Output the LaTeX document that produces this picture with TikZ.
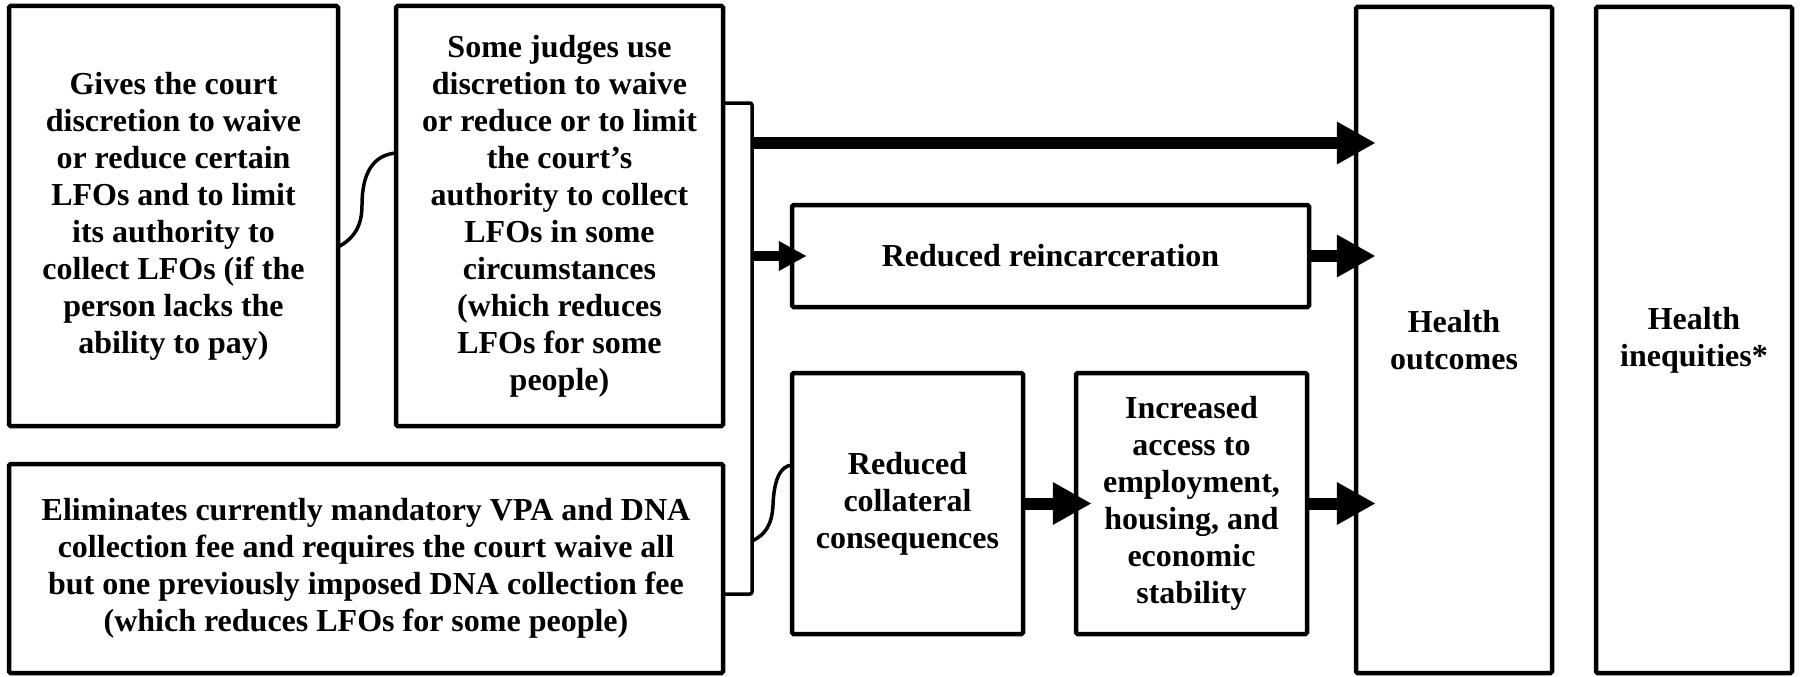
\documentclass[tikz,border=0pt]{standalone}
\usepackage{fontspec}
\setmainfont{Liberation Serif}
\usetikzlibrary{arrows.meta}
\begin{document}
\begin{tikzpicture}[x=1pt,y=-1pt,
  box/.style={draw, line width=4.5pt, align=center, inner sep=0pt,
    rounded corners=1.5pt, font=\bfseries\fontsize{32}{37}\selectfont},
  link/.style={line width=3.5pt, line cap=round, line join=round},
  bigarrow/.style={line width=12pt, -{Triangle[length=39pt,width=40pt]}},
  smallarrow/.style={line width=10pt, -{Triangle[length=28pt,width=28pt]}}]
\path[use as bounding box] (0,0) rectangle (1800,677);

\node[box, minimum width=329pt, minimum height=420pt] (A) at (173.5,216)
  {Gives the court\\discretion to waive\\or reduce certain\\LFOs and to limit\\its authority to\\collect LFOs (if the\\person lacks the\\ability to pay)};
\node[box, minimum width=327pt, minimum height=420pt] (B) at (559.5,216)
  {Some judges use\\discretion to waive\\or reduce or to limit\\the court’s\\authority to collect\\LFOs in some\\circumstances\\(which reduces\\LFOs for some\\people)};
\node[box, minimum width=714pt, minimum height=209pt] (C) at (366,568.5)
  {Eliminates currently mandatory VPA and DNA\\collection fee and requires the court waive all\\but one previously imposed DNA collection fee\\(which reduces LFOs for some people)};
\node[box, minimum width=517pt, minimum height=102pt] (RR) at (1050.5,256)
  {Reduced reincarceration};
\node[box, minimum width=231pt, minimum height=261pt] (RC) at (907.5,503.5)
  {Reduced\\collateral\\consequences};
\node[box, minimum width=231pt, minimum height=261pt] (IA) at (1191.5,503.5)
  {Increased\\access to\\employment,\\housing, and\\economic\\stability};
\node[box, minimum width=196pt, minimum height=666pt] (HO) at (1454,340)
  {Health\\outcomes};
\node[box, minimum width=196pt, minimum height=666pt] (HI) at (1694,340)
  {Health\\inequities*};

% bracket joining B and C
\coordinate (bt) at (752,103);
\coordinate (bb) at (752,594);
\draw[link, rounded corners=2pt] (B.east |- bt) -- (bt) -- (bb) -- (C.east |- bb);

% S-curve A -> B
\coordinate (s1) at (338,247);
\coordinate (s2) at (396,153);
\draw[link] (s1) .. controls (355,238) and (362,225) .. (362,205)
  .. controls (362,175) and (372,155) .. (s2);

% S-curve bracket -> RC
\coordinate (s3) at (752,541);
\coordinate (s4) at (792,465);
\draw[link] (s3) .. controls (765,535) and (772,525) .. (773,505)
  .. controls (774,480) and (780,466) .. (s4);

% arrows
\coordinate (a1) at (752,143);
\draw[bigarrow, shorten >=-22pt] (a1) -- (HO.west |- a1);
\coordinate (a2) at (bt |- RR.west);
\draw[smallarrow, shorten >=-17pt] (a2) -- (RR.west);
\draw[bigarrow, shorten >=-22pt] (RR.east) -- (HO.west |- RR.east);
\draw[bigarrow, shorten >=-18pt] (RC.east) -- (IA.west);
\draw[bigarrow, shorten >=-22pt] (IA.east) -- (HO.west |- IA.east);
\end{tikzpicture}
\end{document}
